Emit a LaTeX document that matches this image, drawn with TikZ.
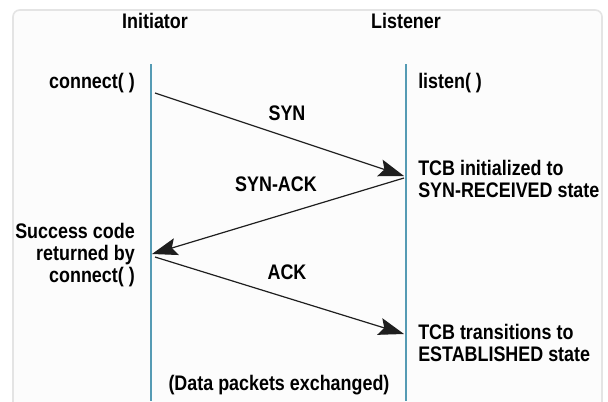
\documentclass[tikz,border=0pt]{standalone}
\usepackage{fontspec}
\setmainfont{Liberation Sans}[FakeStretch=0.85]
\usepackage{tikz}
\usetikzlibrary{arrows.meta}

\begin{document}
\begin{tikzpicture}[x=0.75pt,y=0.75pt,yscale=-1,xscale=1,
  lbl/.style={font=\fontsize{15.8}{16.6}\selectfont\bfseries, inner sep=0pt},
  msg/.style={draw={rgb, 255:red, 30; green, 30; blue, 30 }, line width=0.9pt, -{Stealth[length=19pt,width=13pt,inset=3.5pt]}},
  life/.style={draw={rgb, 255:red, 85; green, 155; blue, 180 }, line width=1.1pt}]
\useasboundingbox (0,0) rectangle (608,401);

%Shape: Rounded Rectangle [id:frame]
\draw [draw={rgb, 255:red, 228; green, 228; blue, 228 }, line width=1.2pt, rounded corners=5pt, fill={rgb, 255:red, 252; green, 252; blue, 252 }] (13,10) rectangle (602,430);

% Text Node
\node [lbl] (initiator) at (155,21) {Initiator};
% Text Node
\node [lbl] (listener) at (406,21) {Listener};

% lifelines
\coordinate (ini_top) at (151,64);
\coordinate (ini_bot) at (151,401);
\coordinate (lis_top) at (406,64);
\coordinate (lis_bot) at (406,401);
\draw [life] (ini_top) -- (ini_bot);
\draw [life] (lis_top) -- (lis_bot);

% Text Node
\node [lbl, anchor=east] (connect) at (135,83) {connect( )};
% Text Node
\node [lbl, anchor=west] (listen) at (418,83) {listen( )};

% messages
\coordinate (syn_s) at (155,93);
\coordinate (syn_e) at (404,176);
\coordinate (synack_s) at (404,178);
\coordinate (synack_e) at (152,254);
\coordinate (ack_s) at (155,257);
\coordinate (ack_e) at (404,334);
\draw [msg] (syn_s) -- (syn_e);
\draw [msg] (synack_s) -- (synack_e);
\draw [msg] (ack_s) -- (ack_e);

% Text Node
\node [lbl] (syn) at (287,113) {SYN};
% Text Node
\node [lbl] (synack) at (276,184) {SYN-ACK};
% Text Node
\node [lbl] (ack) at (287,272) {ACK};

% Text Node
\node [lbl, anchor=west, align=left] (tcbinit) at (418,179) {TCB initialized to\\SYN-RECEIVED state};
% Text Node
\node [lbl, anchor=east, align=right] (success) at (135,255) {Success code\\returned by\\connect( )};
% Text Node
\node [lbl, anchor=west, align=left] (tcbest) at (418,343) {TCB transitions to\\ESTABLISHED state};
% Text Node
\node [lbl] (data) at (279,385) {(Data packets exchanged)};

\end{tikzpicture}
\end{document}
